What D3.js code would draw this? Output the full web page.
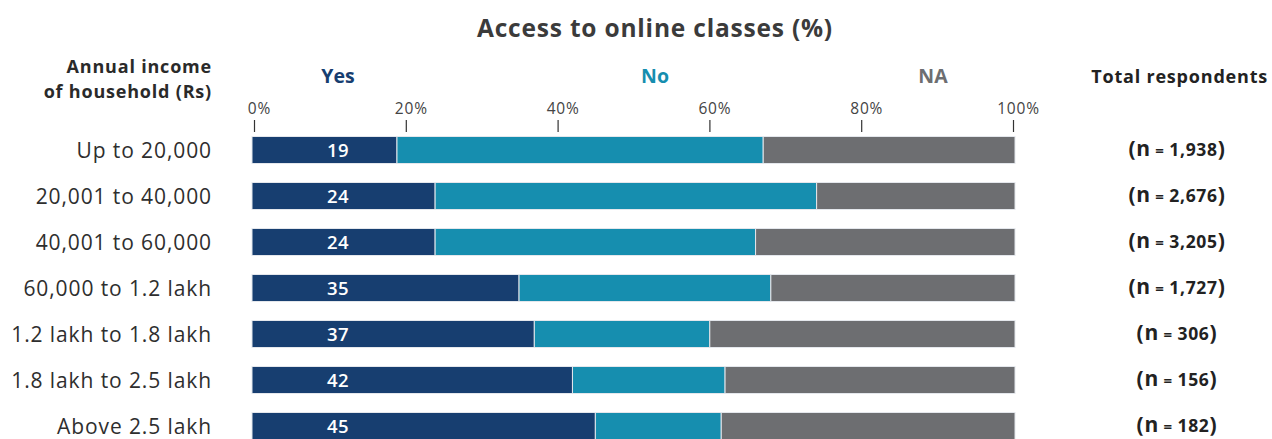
<!DOCTYPE html>
<html>
<head>
<meta charset="utf-8">
<script src="https://cdn.jsdelivr.net/npm/d3@7"></script>
<style>
  html, body { margin: 0; padding: 0; background: #fff; }
  svg { display: block; }
</style>
</head>
<body>
<script>
// Household income groups and their answers on access to online classes (%)
const categories = ["Up to 20,000", "20,001 to 40,000", "40,001 to 60,000", "60,000 to 1.2 lakh",
                    "1.2 lakh to 1.8 lakh", "1.8 lakh to 2.5 lakh", "Above 2.5 lakh"];
const yesValues = [19, 24, 24, 35, 37, 42, 45];
const noValues  = [48, 50, 42, 33, 23, 20, 16.5];
const naValues  = [33, 26, 34, 32, 40, 38, 38.5];
const respondents = ["1,938", "2,676", "3,205", "1,727", "306", "156", "182"];
const seriesNames = ["Yes", "No", "NA"];
const tickValues = [0, 20, 40, 60, 80, 100];

const width = 1272, height = 439;
const colors = { Yes: "#173e70", No: "#168eaf", NA: "#6d6e71" };
const FONT = "'Open Sans', Lato, sans-serif";

const rows = categories.map((c, i) => ({ cat: c, Yes: yesValues[i], No: noValues[i], NA: naValues[i], n: respondents[i] }));
const stacked = d3.stack().keys(seriesNames)(rows);

const svg = d3.select("body").append("svg")
  .attr("width", width).attr("height", height)
  .style("font-family", FONT);

const x = d3.scaleLinear().domain([0, 100]).range([252, 1015]);
const xAxisScale = d3.scaleLinear().domain([0, 100]).range([254, 1013]);
const y = d3.scaleBand().domain(categories).range([127, 127 + 46 * 7]).paddingInner(0.413).paddingOuter(0.2065);

// Title
svg.append("text")
  .attr("x", 655).attr("y", 37)
  .attr("text-anchor", "middle")
  .attr("font-size", 24.5).attr("font-weight", 700).attr("fill", "#3b3b3b")
  .attr("letter-spacing", 0.8)
  .text("Access to online classes (%)");

// Left column header, two lines
const hdr = svg.append("text")
  .attr("text-anchor", "end").attr("font-size", 18).attr("font-weight", 700).attr("fill", "#2a2a2a")
  .attr("letter-spacing", 0.8);
hdr.append("tspan").attr("x", 212).attr("y", 73).text("Annual income");
hdr.append("tspan").attr("x", 212).attr("y", 97.7).text("of household (Rs)");

// Series headers
const headerX = { Yes: 338, No: 655, NA: 933 };
seriesNames.forEach(s => {
  svg.append("text")
    .attr("x", headerX[s]).attr("y", 83)
    .attr("text-anchor", "middle")
    .attr("font-size", 19.5).attr("font-weight", 700)
    .attr("fill", colors[s])
    .text(s);
});

// Right column header
svg.append("text")
  .attr("x", 1268).attr("y", 83)
  .attr("text-anchor", "end")
  .attr("font-size", 18).attr("font-weight", 700).attr("fill", "#222")
  .attr("letter-spacing", 0.8)
  .text("Total respondents");

// Percentage axis above the bars
const axis = svg.append("g")
  .attr("transform", "translate(0,120)")
  .call(d3.axisTop(xAxisScale).tickValues(tickValues).tickFormat(d => d + "%").tickSize(-12).tickPadding(6));
axis.select(".domain").remove();
axis.selectAll(".tick line").attr("stroke", "#333").attr("stroke-width", 1.2);
axis.selectAll(".tick text")
  .attr("font-family", FONT).attr("font-size", 15.5).attr("fill", "#444")
  .attr("letter-spacing", 0.8)
  .attr("dx", 5);

// Stacked bars
svg.append("g").selectAll("g")
  .data(stacked)
  .join("g")
  .attr("fill", d => colors[d.key])
  .selectAll("rect")
  .data(d => d)
  .join("rect")
  .attr("x", d => x(d[0]))
  .attr("y", d => y(d.data.cat))
  .attr("width", d => x(d[1]) - x(d[0]))
  .attr("height", y.bandwidth())
  .attr("stroke", "#e4e7ec")
  .attr("stroke-width", 1);

// Values inside the Yes segment
svg.append("g").selectAll("text")
  .data(rows)
  .join("text")
  .attr("x", headerX.Yes)
  .attr("y", d => y(d.cat) + y.bandwidth() / 2)
  .attr("dy", "0.36em")
  .attr("text-anchor", "middle")
  .attr("font-size", 18.5).attr("font-weight", 600).attr("fill", "#fff")
  .attr("letter-spacing", 0.5)
  .text(d => d.Yes);

// Category labels
svg.append("g").selectAll("text")
  .data(rows)
  .join("text")
  .attr("x", 212)
  .attr("y", d => y(d.cat) + y.bandwidth() / 2)
  .attr("dy", "0.36em")
  .attr("text-anchor", "end")
  .attr("font-size", 21).attr("font-weight", 400).attr("fill", "#2e2e2e")
  .attr("letter-spacing", 0.9)
  .text(d => d.cat);

// Respondent counts
const nText = svg.append("g").selectAll("text")
  .data(rows)
  .join("text")
  .attr("x", 1177)
  .attr("y", d => y(d.cat) + y.bandwidth() / 2)
  .attr("dy", "0.36em")
  .attr("text-anchor", "middle")
  .attr("font-weight", 700).attr("fill", "#222")
  .attr("letter-spacing", 0.7);
nText.append("tspan").attr("font-size", 21).text("(n");
nText.append("tspan").attr("font-size", 15).text(" = ");
nText.append("tspan").attr("font-size", 17.5).text(d => d.n);
nText.append("tspan").attr("font-size", 21).text(")");
</script>
</body>
</html>
